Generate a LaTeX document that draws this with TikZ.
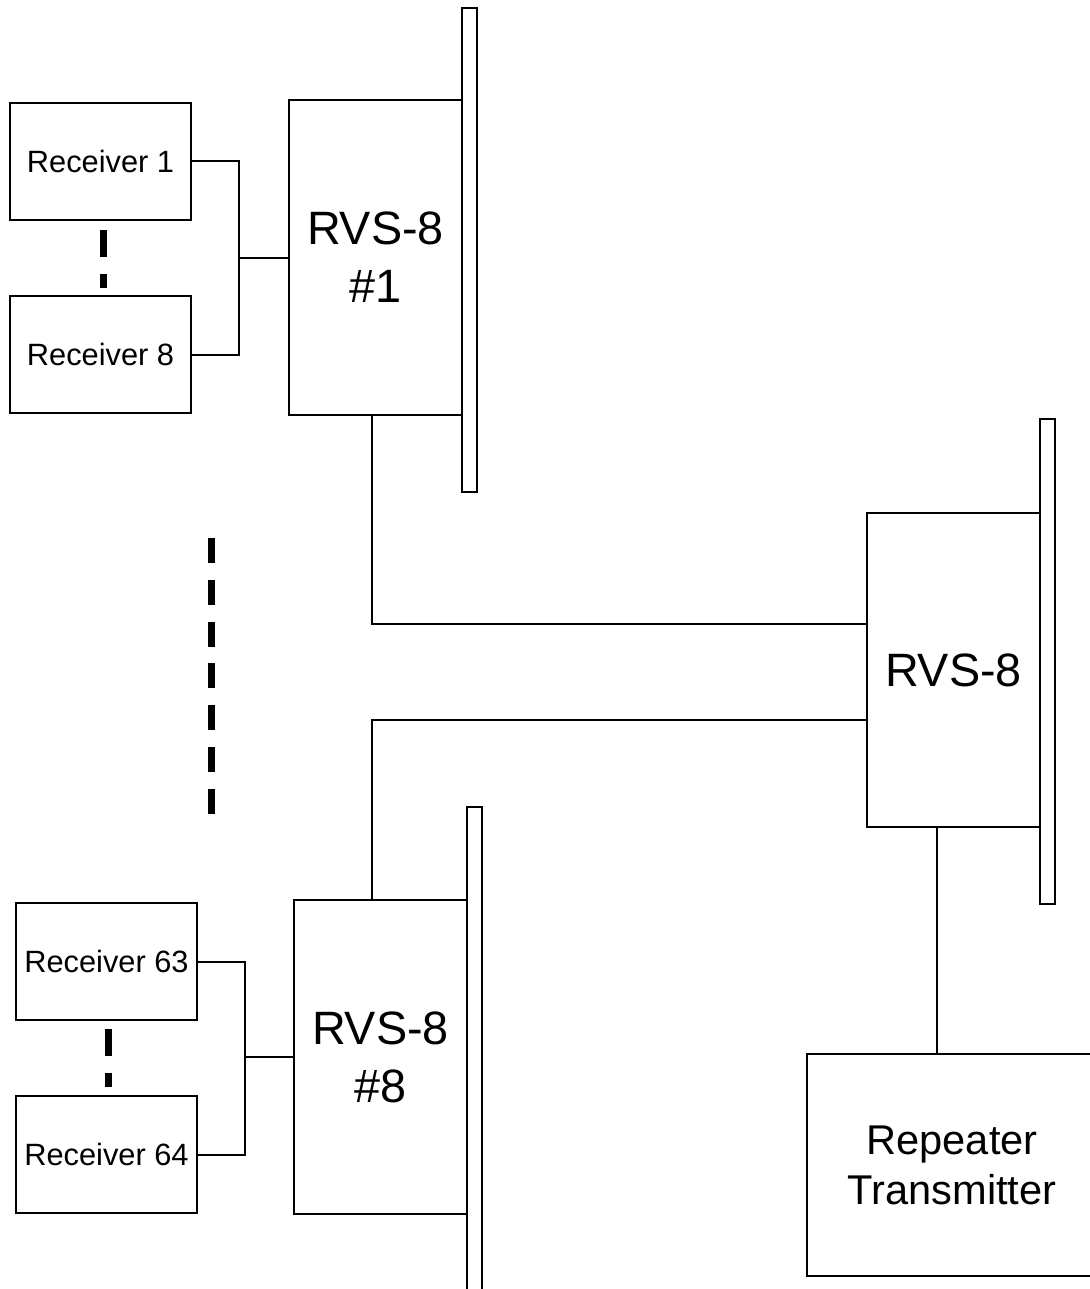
\documentclass[tikz,border=0pt]{standalone}
\usepackage{fontspec}
\setmainfont{Liberation Sans}

\tikzset{
  recv/.style={draw, line width=1pt, inner sep=1pt, minimum width=90.5pt, minimum height=58.5pt,
    font=\fontsize{15.4}{18}\selectfont},
  rvs/.style={draw, line width=1pt, inner sep=1pt, minimum width=86.5pt, minimum height=157pt,
    align=center, font=\fontsize{23.4}{29}\selectfont},
  bar/.style={draw, line width=1pt, inner sep=0pt, minimum width=7.5pt},
  wire/.style={line width=1pt},
  gapdash/.style={line width=3.5pt, dash pattern=on 13.25pt off 8.5pt},
  longdash/.style={line width=3.5pt, dash pattern=on 12.5pt off 8.4pt}
}

\begin{document}
\begin{tikzpicture}[x=.5pt,y=-.5pt]

\useasboundingbox (0,0) rectangle (1090,1289);
\clip (0,0) rectangle (1090,1289);

% first group of receivers
\node[recv] (r1) at (100.5,161.5) {Receiver 1};
\node[recv] (r8) at (100.5,354.5) {Receiver 8};
\node[rvs] (rvsA) at (375.5,257.5) {RVS-8\\\#1};
\node[bar, minimum height=242pt] (barA) at (469.5,250) {};

% last group of receivers
\node[recv] (r63) at (106.5,961.5) {Receiver 63};
\node[recv] (r64) at (106.5,1154.5) {Receiver 64};
\node[rvs] (rvsB) at (380.5,1057) {RVS-8\\\#8};
\node[bar, minimum height=247pt] (barB) at (474.5,1054) {};

% combining switch and transmitter
\node[rvs] (rvsC) at (953.5,670) {RVS-8};
\node[bar, minimum height=242.5pt] (barC) at (1047.5,661.5) {};
\node[draw, line width=1pt, minimum width=145pt, minimum height=111pt, align=center,
  font=\fontsize{20.8}{25}\selectfont] (rep) at (952,1165) {Repeater\\Transmitter};

\coordinate (jA) at (239,258);
\coordinate (jB) at (245,1057);

\draw[wire] (r1.east) -| (jA) |- (r8.east);
\draw[wire] (jA) -- (jA -| rvsA.west);
\draw[wire] (r63.east) -| (jB) |- (r64.east);
\draw[wire] (jB) -- (jB -| rvsB.west);

\draw[wire] ([xshift=-1.75pt]rvsA.south) |- ([yshift=23pt]rvsC.west);
\draw[wire] ([xshift=-4.25pt]rvsB.north) |- ([yshift=-25pt]rvsC.west);
\draw[wire] ([xshift=-8.25pt]rvsC.south) -- ([xshift=-8.25pt]rvsC.south |- rep.north);

% dashes between the receivers
\draw[gapdash] ([xshift=1.25pt,yshift=-4.5pt]r1.south) -- ([xshift=1.25pt,yshift=3.5pt]r8.north);
\draw[gapdash] ([xshift=.75pt,yshift=-4pt]r63.south) -- ([xshift=.75pt,yshift=4pt]r64.north);
\draw[longdash] (211.5,538) -- (211.5,815);

\end{tikzpicture}
\end{document}
